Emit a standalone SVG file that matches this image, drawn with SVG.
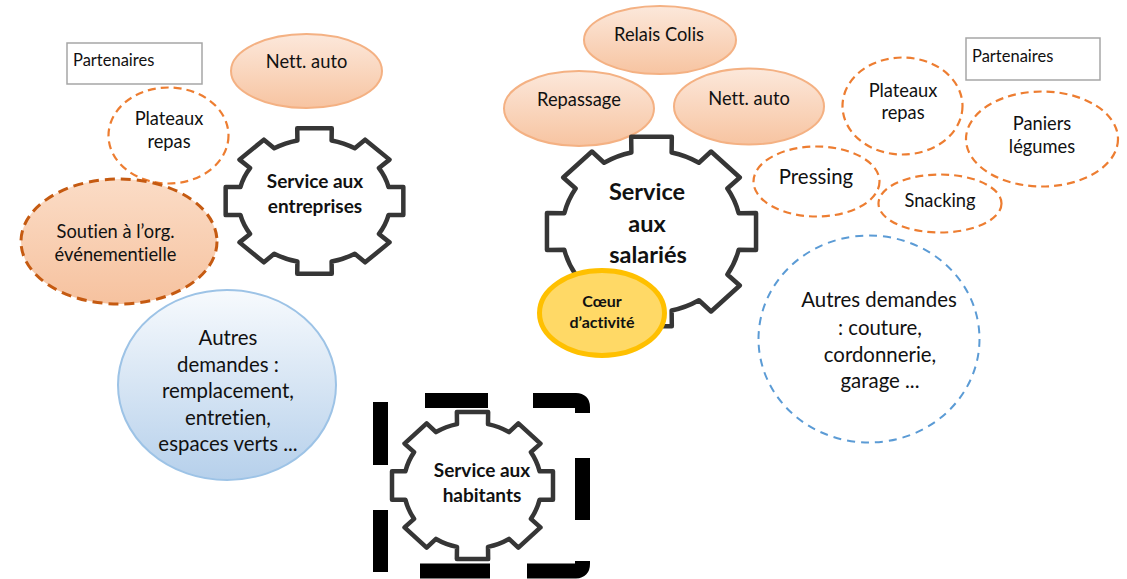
<svg xmlns="http://www.w3.org/2000/svg" xmlns:xlink="http://www.w3.org/1999/xlink" width="1127" height="579" viewBox="0 0 1127 579">
<style>
text{font-family:Lato,"Liberation Sans",sans-serif;fill:#111;text-anchor:middle;font-variant-ligatures:none}
.t{font-size:18.3px}
.big{font-size:20.4px}
.pt{font-size:16.5px;text-anchor:start}
.gb{font-weight:bold;font-size:19px}
.gb2{font-weight:bold;font-size:23.5px}
.cb{font-weight:bold;font-size:16px}
.part{fill:#fff;stroke:#a6a6a6;stroke-width:1.5}
.peach{fill:url(#gPeach);stroke:#f4b183;stroke-width:2}
.dash{fill:none;stroke:#ed7d31;stroke-width:2.2;stroke-dasharray:8 5}
.gear{fill:#fff;stroke:#363636;stroke-width:4.5;stroke-linejoin:round;vector-effect:non-scaling-stroke}
</style>
<defs>
<linearGradient id="gPeach" x1="0" y1="0" x2="0" y2="1">
<stop offset="0" stop-color="#fce8db"/>
<stop offset="1" stop-color="#f7c4a1"/>
</linearGradient>
<linearGradient id="gSout" x1="0" y1="0" x2="0" y2="1">
<stop offset="0" stop-color="#fbdcc6"/>
<stop offset="1" stop-color="#f6c29f"/>
</linearGradient>
<linearGradient id="gBlue" x1="0" y1="0" x2="0" y2="1">
<stop offset="0" stop-color="#f7fafd"/>
<stop offset="1" stop-color="#b6d0eb"/>
</linearGradient>
<path id="gearShape" class="gear" d="M0.8185 -0.1890 L0.9816 -0.1908 L0.9816 0.1908 L0.8185 0.1890 A0.84 0.84 0 0 1 0.7123 0.4451 L0.8290 0.5592 L0.5592 0.8290 L0.4451 0.7123 A0.84 0.84 0 0 1 0.1890 0.8185 L0.1908 0.9816 L-0.1908 0.9816 L-0.1890 0.8185 A0.84 0.84 0 0 1 -0.4451 0.7123 L-0.5592 0.8290 L-0.8290 0.5592 L-0.7123 0.4451 A0.84 0.84 0 0 1 -0.8185 0.1890 L-0.9816 0.1908 L-0.9816 -0.1908 L-0.8185 -0.1890 A0.84 0.84 0 0 1 -0.7123 -0.4451 L-0.8290 -0.5592 L-0.5592 -0.8290 L-0.4451 -0.7123 A0.84 0.84 0 0 1 -0.1890 -0.8185 L-0.1908 -0.9816 L0.1908 -0.9816 L0.1890 -0.8185 A0.84 0.84 0 0 1 0.4451 -0.7123 L0.5592 -0.8290 L0.8290 -0.5592 L0.7123 -0.4451 A0.84 0.84 0 0 1 0.8185 -0.1890 Z"/>
</defs>
<rect width="1127" height="579" fill="#fff"/>
<g id="connectors"></g>

<!-- Left cluster -->
<g id="partenaires-left">
<rect class="part" x="67" y="43" width="135" height="41"/>
<text class="pt" x="73" y="66">Partenaires</text>
</g>
<g id="nett-auto-left">
<ellipse class="peach" cx="306.5" cy="71" rx="75.5" ry="37"/>
<text class="t" x="306.5" y="68">Nett. auto</text>
</g>
<g id="plateaux-left">
<ellipse class="dash" cx="168.5" cy="135.5" rx="60" ry="48"/>
<text class="t" x="169" y="125">Plateaux</text>
<text class="t" x="169" y="148">repas</text>
</g>
<g id="soutien">
<ellipse cx="119" cy="241.5" rx="98" ry="62.5" fill="url(#gSout)" stroke="#c55a11" stroke-width="3" stroke-dasharray="10 6"/>
<text class="t" x="115.5" y="238">Soutien à l’org.</text>
<text class="t" x="115.5" y="261">événementielle</text>
</g>
<g id="autres-left">
<ellipse cx="227" cy="385" rx="109" ry="95" fill="url(#gBlue)" stroke="#9dc3e6" stroke-width="2"/>
<text class="big" x="228" y="345">Autres</text>
<text class="big" x="228" y="372">demandes :</text>
<text class="big" x="228" y="398">remplacement,</text>
<text class="big" x="228" y="425">entretien,</text>
<text class="big" x="228" y="451">espaces verts ...</text>
</g>
<g id="gear-entreprises">
<use xlink:href="#gearShape" transform="translate(314.5 201) scale(90.5 74)"/>
<text class="gb" x="315" y="188">Service aux</text>
<text class="gb" x="315" y="213">entreprises</text>
</g>

<!-- Middle cluster -->
<g id="relais-colis">
<ellipse class="peach" cx="660" cy="40" rx="76" ry="34"/>
<text class="t" x="659" y="41">Relais Colis</text>
</g>
<g id="repassage">
<ellipse class="peach" cx="579" cy="108.5" rx="75" ry="37.5"/>
<text class="t" x="579" y="106">Repassage</text>
</g>
<g id="nett-auto-right">
<ellipse class="peach" cx="749" cy="106.5" rx="75" ry="38"/>
<text class="t" x="749" y="105">Nett. auto</text>
</g>
<g id="gear-salaries">
<use xlink:href="#gearShape" transform="translate(651.5 231.5) scale(106.5 96.5)"/>
<text class="gb2" x="647" y="200">Service</text>
<text class="gb2" x="647" y="232">aux</text>
<text class="gb2" x="648" y="263">salariés</text>
</g>
<g id="coeur">
<ellipse cx="602" cy="313" rx="62.5" ry="42.5" fill="#ffd966" stroke="#ffc000" stroke-width="5"/>
<text class="cb" x="602" y="307">Cœur</text>
<text class="cb" x="602" y="328">d’activité</text>
</g>

<!-- Right cluster -->
<g id="partenaires-right">
<rect class="part" x="966" y="38" width="134" height="42"/>
<text class="pt" x="972" y="62">Partenaires</text>
</g>
<g id="plateaux-right">
<ellipse class="dash" cx="902.5" cy="106" rx="60" ry="48.5"/>
<text class="t" x="903" y="97">Plateaux</text>
<text class="t" x="903" y="119">repas</text>
</g>
<g id="paniers">
<ellipse class="dash" cx="1042" cy="139" rx="76" ry="47.5"/>
<text class="t" x="1042" y="130">Paniers</text>
<text class="t" x="1042" y="153">légumes</text>
</g>
<g id="pressing">
<ellipse class="dash" cx="816.5" cy="181.5" rx="63" ry="35"/>
<text class="big" x="816" y="184">Pressing</text>
</g>
<g id="snacking">
<ellipse class="dash" cx="940" cy="203.5" rx="61.5" ry="29"/>
<text class="t" x="940" y="207">Snacking</text>
</g>
<g id="autres-right">
<ellipse cx="869" cy="339" rx="110.5" ry="103.5" fill="none" stroke="#5b9bd5" stroke-width="2" stroke-dasharray="8 6"/>
<text class="big" x="879" y="307">Autres demandes</text>
<text class="big" x="880" y="335">: couture,</text>
<text class="big" x="880" y="362">cordonnerie,</text>
<text class="big" x="880" y="388">garage ...</text>
</g>

<!-- Bottom -->
<g id="gear-habitants">
<path d="M425 400.5 H488 M533 400.5 H576 Q582.5 400.5 582.5 407 V413 M582.5 458 V520 M527 571 H576 Q582.5 571 582.5 564 V561 M420 571 H490 M380.5 402 V465 M380.5 510 V572" fill="none" stroke="#000" stroke-width="15"/>
<use xlink:href="#gearShape" transform="translate(472.5 485.5) scale(82 75)"/>
<text class="gb" x="482" y="477">Service aux</text>
<text class="gb" x="482" y="502">habitants</text>
</g>
</svg>
